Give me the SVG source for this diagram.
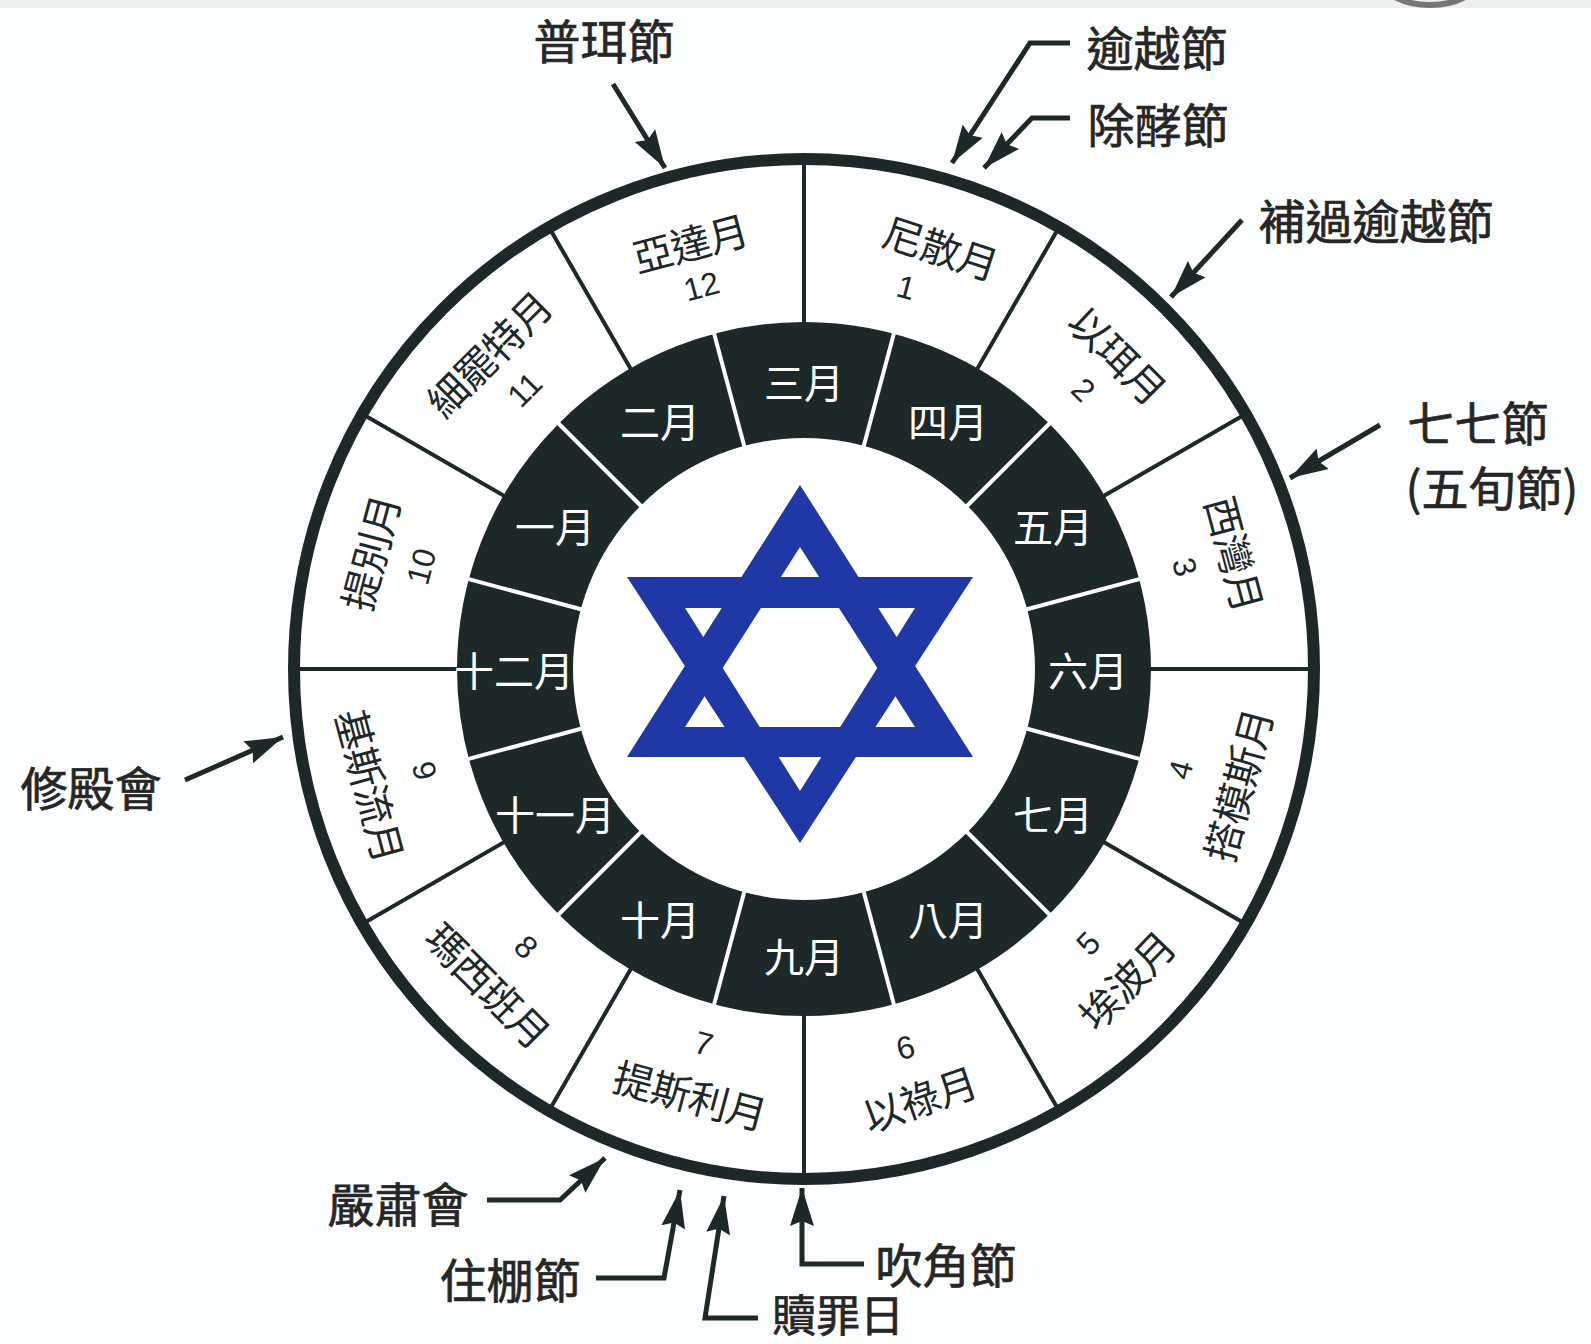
<svg xmlns="http://www.w3.org/2000/svg" width="1591" height="1344" viewBox="0 0 1591 1344">
<defs>
<style>
.lbl{font-family:"Noto Sans CJK TC","Noto Sans CJK SC",sans-serif;font-size:47px;fill:#262626;stroke:#262626;stroke-width:0.7;text-anchor:middle;dominant-baseline:central;}
.mo{font-family:"Noto Sans CJK TC","Noto Sans CJK SC",sans-serif;font-size:40px;fill:#ffffff;text-anchor:middle;dominant-baseline:central;}
.heb{font-family:"Noto Sans CJK TC","Noto Sans CJK SC",sans-serif;font-size:40px;fill:#1d2829;text-anchor:middle;dominant-baseline:central;letter-spacing:-1px;}
.num{font-family:"Liberation Sans",Arial,sans-serif;font-size:32px;fill:#1d2829;text-anchor:middle;dominant-baseline:central;}
.div{stroke:#1d2829;stroke-width:4;}
.wdiv{stroke:#ffffff;stroke-width:4;}
.conn{fill:none;stroke:#1d2829;stroke-width:5;stroke-linejoin:miter;marker-end:url(#ah);}
</style>
<marker id="ah" markerUnits="userSpaceOnUse" markerWidth="40" markerHeight="26" refX="38" refY="13" orient="auto">
<path d="M0,1 L38,13 L0,25 L5,13 Z" fill="#1d2829"/>
</marker>
</defs>
<rect x="0" y="0" width="1591" height="1344" fill="#fcfdfd"/>
<rect x="0" y="0" width="1591" height="8" fill="#eef0f0"/>
<ellipse cx="1430" cy="-20" rx="48" ry="25" fill="none" stroke="#777" stroke-width="6"/>

<g id="wheel" transform="translate(804,669)">
  <circle r="510" fill="#ffffff" stroke="#1d2829" stroke-width="12"/>
  <g id="outer-dividers">
    <line class="div" x1="0" y1="-300" x2="0" y2="-508" transform="rotate(0)"/>
    <line class="div" x1="0" y1="-300" x2="0" y2="-508" transform="rotate(30)"/>
    <line class="div" x1="0" y1="-300" x2="0" y2="-508" transform="rotate(60)"/>
    <line class="div" x1="0" y1="-300" x2="0" y2="-508" transform="rotate(90)"/>
    <line class="div" x1="0" y1="-300" x2="0" y2="-508" transform="rotate(120)"/>
    <line class="div" x1="0" y1="-300" x2="0" y2="-508" transform="rotate(150)"/>
    <line class="div" x1="0" y1="-300" x2="0" y2="-508" transform="rotate(180)"/>
    <line class="div" x1="0" y1="-300" x2="0" y2="-508" transform="rotate(210)"/>
    <line class="div" x1="0" y1="-300" x2="0" y2="-508" transform="rotate(240)"/>
    <line class="div" x1="0" y1="-300" x2="0" y2="-508" transform="rotate(270)"/>
    <line class="div" x1="0" y1="-300" x2="0" y2="-508" transform="rotate(300)"/>
    <line class="div" x1="0" y1="-300" x2="0" y2="-508" transform="rotate(330)"/>
  </g>
  <circle r="289" fill="none" stroke="#1d2829" stroke-width="116"/>
  <g id="inner-dividers">
    <line class="wdiv" x1="0" y1="-228" x2="0" y2="-350" transform="rotate(15)"/>
    <line class="wdiv" x1="0" y1="-228" x2="0" y2="-350" transform="rotate(45)"/>
    <line class="wdiv" x1="0" y1="-228" x2="0" y2="-350" transform="rotate(75)"/>
    <line class="wdiv" x1="0" y1="-228" x2="0" y2="-350" transform="rotate(105)"/>
    <line class="wdiv" x1="0" y1="-228" x2="0" y2="-350" transform="rotate(135)"/>
    <line class="wdiv" x1="0" y1="-228" x2="0" y2="-350" transform="rotate(165)"/>
    <line class="wdiv" x1="0" y1="-228" x2="0" y2="-350" transform="rotate(195)"/>
    <line class="wdiv" x1="0" y1="-228" x2="0" y2="-350" transform="rotate(225)"/>
    <line class="wdiv" x1="0" y1="-228" x2="0" y2="-350" transform="rotate(255)"/>
    <line class="wdiv" x1="0" y1="-228" x2="0" y2="-350" transform="rotate(285)"/>
    <line class="wdiv" x1="0" y1="-228" x2="0" y2="-350" transform="rotate(315)"/>
    <line class="wdiv" x1="0" y1="-228" x2="0" y2="-350" transform="rotate(345)"/>
  </g>

  <g id="hebrew-1"><text class="heb" transform="rotate(18) translate(0,-444)">尼散月</text><text class="num" transform="rotate(15) translate(0,-395)">1</text></g>
  <g id="hebrew-2"><text class="heb" transform="rotate(45) translate(0,-445)">以珥月</text><text class="num" transform="rotate(45) translate(0,-395)">2</text></g>
  <g id="hebrew-3"><text class="heb" transform="rotate(75) translate(0,-447)">西灣月</text><text class="num" transform="rotate(75) translate(0,-394)">3</text></g>
  <g id="hebrew-4"><text class="heb" transform="rotate(105) translate(0,-448) rotate(180)">搭模斯月</text><text class="num" transform="rotate(105) translate(0,-390) rotate(180)">4</text></g>
  <g id="hebrew-5"><text class="heb" transform="rotate(134) translate(0,-447) rotate(180)">埃波月</text><text class="num" transform="rotate(134) translate(0,-395) rotate(180)">5</text></g>
  <g id="hebrew-6"><text class="heb" transform="rotate(165) translate(0,-444) rotate(180) rotate(-4)">以祿月</text><text class="num" transform="rotate(165) translate(0,-392) rotate(180)">6</text></g>
  <g id="hebrew-7"><text class="heb" transform="rotate(195) translate(0,-440) rotate(180)">提斯利月</text><text class="num" transform="rotate(195) translate(0,-388) rotate(180)">7</text></g>
  <g id="hebrew-8"><text class="heb" transform="rotate(225) translate(0,-446) rotate(180)">瑪西班月</text><text class="num" transform="rotate(225) translate(0,-393) rotate(180)">8</text></g>
  <g id="hebrew-9"><text class="heb" transform="rotate(255) translate(0,-448) rotate(180)">基斯流月</text><text class="num" transform="rotate(255) translate(0,-393) rotate(180)">9</text></g>
  <g id="hebrew-10"><text class="heb" transform="rotate(285) translate(0,-450)">提別月</text><text class="num" transform="rotate(285) translate(0,-396)">10</text></g>
  <g id="hebrew-11"><text class="heb" transform="rotate(315) translate(0,-447)">細罷特月</text><text class="num" transform="rotate(315) translate(0,-395)">11</text></g>
  <g id="hebrew-12"><text class="heb" transform="rotate(345) translate(0,-442)">亞達月</text><text class="num" transform="rotate(345) translate(0,-396)">12</text></g>

  <g id="civil-3"><text class="mo" x="0" y="-288">三月</text></g>
  <g id="civil-4"><text class="mo" x="144" y="-249">四月</text></g>
  <g id="civil-5"><text class="mo" x="249" y="-144">五月</text></g>
  <g id="civil-6"><text class="mo" x="284" y="0">六月</text></g>
  <g id="civil-7"><text class="mo" x="249" y="144">七月</text></g>
  <g id="civil-8"><text class="mo" x="144" y="249">八月</text></g>
  <g id="civil-9"><text class="mo" x="0" y="286">九月</text></g>
  <g id="civil-10"><text class="mo" x="-144" y="249">十月</text></g>
  <g id="civil-11"><text class="mo" x="-249" y="144">十一月</text></g>
  <g id="civil-12"><text class="mo" x="-290" y="0">十二月</text></g>
  <g id="civil-1"><text class="mo" x="-249" y="-144">一月</text></g>
  <g id="civil-2"><text class="mo" x="-144" y="-249">二月</text></g>
</g>

<g id="star" fill="#1f38a5" fill-rule="evenodd">
  <path d="M800,485 L973,757 L627,757 Z M800,547 L685,727 L915,727 Z"/>
  <path d="M627,577 L973,577 L800,843 Z M685,608 L800,791 L915,608 Z"/>
</g>

<g id="connectors">
  <path class="conn" d="M613,84 L665,168"/>
  <path class="conn" d="M1070,43 L1030,43 L952,163"/>
  <path class="conn" d="M1070,118 L1032,118 L984,168"/>
  <path class="conn" d="M1242,220 L1171,297"/>
  <path class="conn" d="M1380,425 L1290,478"/>
  <path class="conn" d="M185,780 L283,737"/>
  <path class="conn" d="M487,1200 L560,1200 L605,1158"/>
  <path class="conn" d="M596,1278 L664,1278 L680,1190"/>
  <path class="conn" d="M758,1318 L705,1318 L724,1196"/>
  <path class="conn" d="M864,1264 L802,1264 L802,1188"/>
</g>

<g id="label-purim"><text class="lbl" x="604" y="38">普珥節</text></g>
<g id="label-passover"><text class="lbl" x="1157" y="45">逾越節</text></g>
<g id="label-unleavened"><text class="lbl" x="1158" y="122">除酵節</text></g>
<g id="label-second-passover"><text class="lbl" x="1376" y="218">補過逾越節</text></g>
<g id="label-weeks"><text class="lbl" x="1478" y="420">七七節</text><text class="lbl" x="1492" y="485">(五旬節)</text></g>
<g id="label-dedication"><text class="lbl" x="91" y="785">修殿會</text></g>
<g id="label-solemn"><text class="lbl" x="398" y="1201">嚴肅會</text></g>
<g id="label-tabernacles"><text class="lbl" x="510" y="1277">住棚節</text></g>
<g id="label-atonement"><text class="lbl" x="838" y="1313" style="font-size:44px">贖罪日</text></g>
<g id="label-trumpets"><text class="lbl" x="946" y="1262">吹角節</text></g>
</svg>
